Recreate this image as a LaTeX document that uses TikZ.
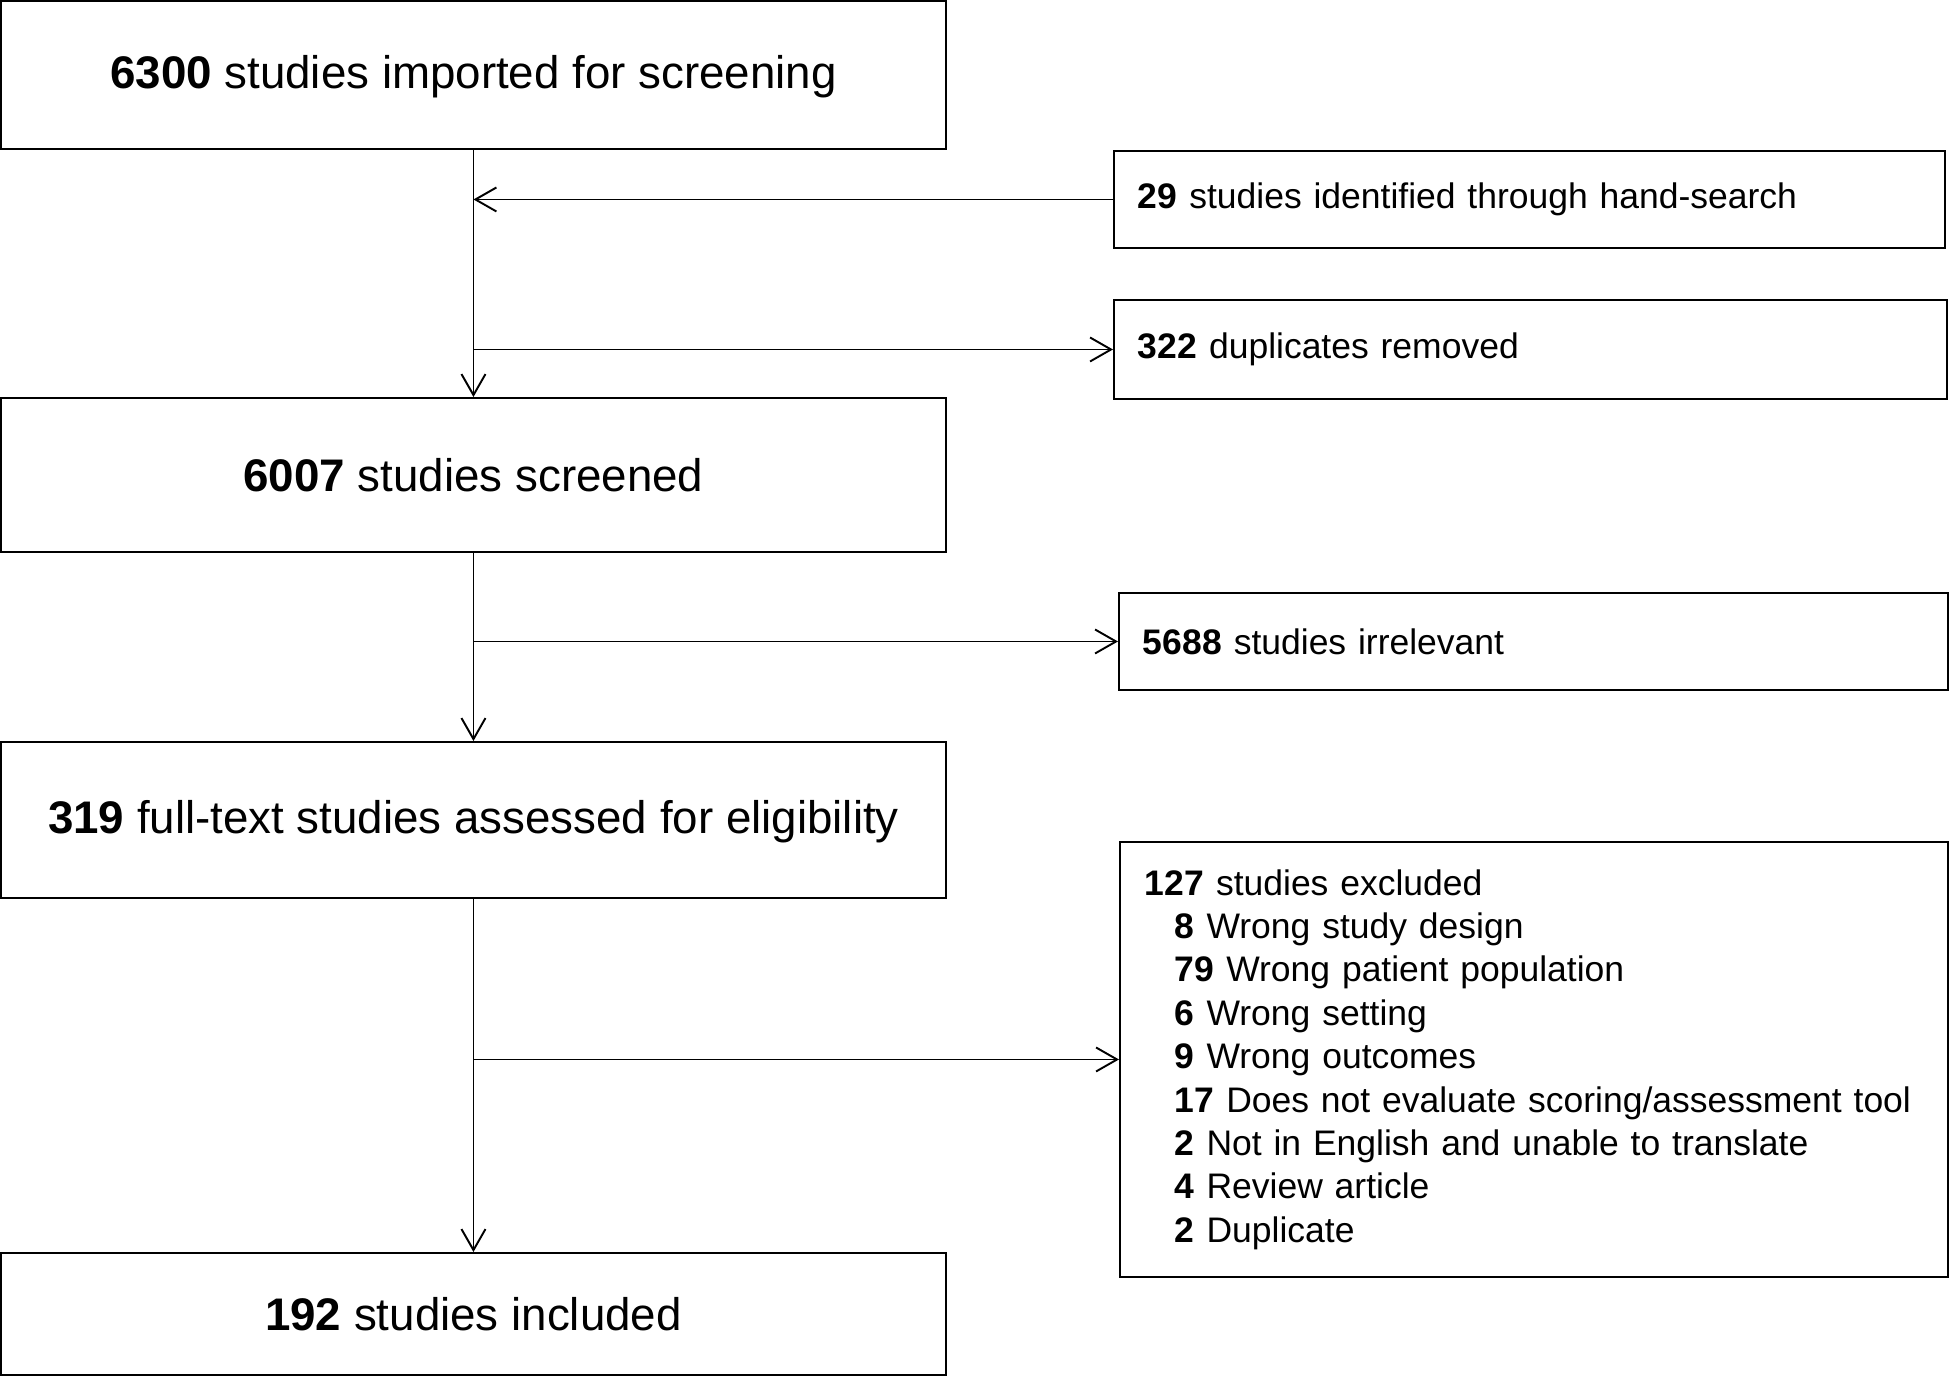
\documentclass[tikz,border=0pt]{standalone}
\usepackage{fontspec}
\setmainfont{Liberation Sans}
\usetikzlibrary{arrows.meta}

\begin{document}
\begin{tikzpicture}[x=0.1mm, y=-0.1mm, line width=0.55pt,
        >={Straight Barb[length=2.1mm,width=2.4mm]},
        mainbox/.style={draw, anchor=north west, inner sep=0pt, minimum width=94.5mm,
            font=\fontsize{13}{15.6}\selectfont},
        sidebox/.style={draw, anchor=north west, inner xsep=2.4mm, inner ysep=0pt,
            text width=78.3mm, align=left, font=\fontsize{10.1}{12.35}\selectfont}]
        \def\ind{\hspace*{3mm}}
        \useasboundingbox (0,0) rectangle (1950,1375);

        % main column
        \node[mainbox, minimum height=14.8mm, text depth=0.6mm] (imported) at (0,0) {\textbf{6300} studies imported for screening};
        \node[mainbox, minimum height=15.4mm] (screened) at (0,397) {\textbf{6007} studies screened};
        \node[mainbox, minimum height=15.6mm, text depth=0.6mm] (fulltext) at (0,741) {\textbf{319} full-text studies assessed for eligibility};
        \node[mainbox, minimum height=12.2mm] (included) at (0,1252) {\textbf{192} studies included};

        % side boxes
        \node[sidebox, minimum height=9.7mm] (hand) at (1113,150) {\textbf{29} studies identified through hand-search};
        \node[sidebox, minimum height=9.9mm, text width=78.5mm] (dupl) at (1113,299) {\textbf{322} duplicates removed};
        \node[sidebox, minimum height=9.7mm, text width=78.1mm] (irrel) at (1118,592) {\textbf{5688} studies irrelevant};
        \node[sidebox, minimum height=43.5mm, inner xsep=2.5mm, text width=77.8mm] (excl) at (1119,841) {%
            \textbf{127} studies excluded\\
            \ind\textbf{8} Wrong study design\\
            \ind\textbf{79} Wrong patient population\\
            \ind\textbf{6} Wrong setting\\
            \ind\textbf{9} Wrong outcomes\\
            \ind\textbf{17} Does not evaluate scoring/assessment tool\\
            \ind\textbf{2} Not in English and unable to translate\\
            \ind\textbf{4} Review article\\
            \ind\textbf{2} Duplicate};

        % connectors
        \draw[->] (imported.south) -- (screened.north);
        \draw[->] (hand.west) -- (hand.west -| imported.south);
        \draw[->] (imported.south |- dupl.west) -- (dupl.west);
        \draw[->] (screened.south) -- (fulltext.north);
        \draw[->] (screened.south |- irrel.west) -- (irrel.west);
        \draw[->] (fulltext.south) -- (included.north);
        \draw[->] (fulltext.south |- excl.west) -- (excl.west);
\end{tikzpicture}
\end{document}
